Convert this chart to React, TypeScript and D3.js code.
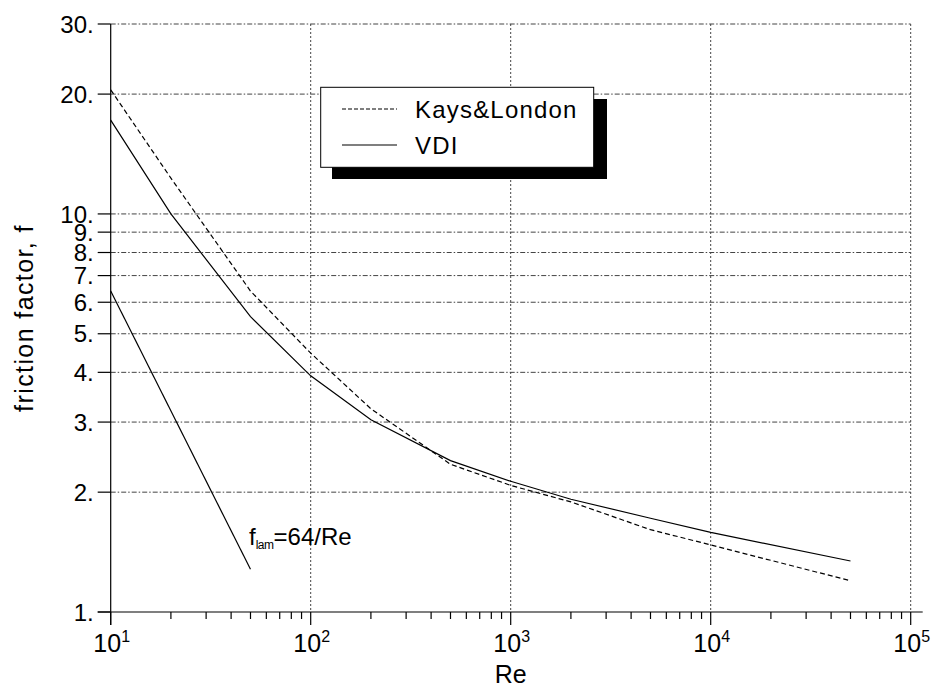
import React, { useEffect, useRef } from "react";
import * as d3 from "d3";

// Reynolds numbers where the curves have their kinks
const reKays = [10, 20, 50, 100, 200, 500, 1000, 2000, 5000, 10000, 50000];
const fKays = [20.5, 12.3, 6.4, 4.47, 3.24, 2.35, 2.08, 1.89, 1.61, 1.474, 1.198];

const reVdi = [10, 20, 50, 100, 200, 500, 1000, 2000, 5000, 10000, 50000];
const fVdi = [17.2, 10.0, 5.52, 3.92, 3.04, 2.4, 2.13, 1.92, 1.72, 1.585, 1.343];

// laminar line f = 64/Re, drawn from Re=10 to Re=50
const reLam = [10, 50];
const fLam = [6.4, 1.28];

const yTicks = [1, 2, 3, 4, 5, 6, 7, 8, 9, 10, 20, 30];
const xDecades = [1, 2, 3, 4, 5];
const legendNames = ["Kays&London", "VDI"];

const W = 931;
const H = 688;

export default function App() {
  const ref = useRef<SVGSVGElement>(null);

  useEffect(() => {
    const svg = d3.select(ref.current);
    svg.selectAll("*").remove();

    const x = d3.scaleLog().domain([10, 1e5]).range([110.7, 910.7]);
    const y = d3.scaleLog().domain([1, 30]).range([612, 24]);
    const font = "'Liberation Sans', Arial, sans-serif";

    // grid
    const grid = svg.append("g").attr("stroke", "#444").attr("stroke-width", 1);
    grid
      .selectAll("line.h")
      .data(yTicks.filter((d) => d > 1))
      .enter()
      .append("line")
      .attr("x1", x(10))
      .attr("x2", x(1e5))
      .attr("y1", (d) => y(d))
      .attr("y2", (d) => y(d))
      .attr("stroke-dasharray", "5,2,1.5,2");
    grid
      .selectAll("line.v")
      .data(xDecades.filter((d) => d > 1))
      .enter()
      .append("line")
      .attr("x1", (d) => x(Math.pow(10, d)))
      .attr("x2", (d) => x(Math.pow(10, d)))
      .attr("y1", y(30))
      .attr("y2", y(1))
      .attr("stroke-dasharray", "2,2");

    // axes lines
    const ax = svg.append("g").attr("stroke", "#000").attr("stroke-width", 1.2);
    ax.append("line").attr("x1", x(10) - 13).attr("x2", x(1e5) + 12).attr("y1", y(1)).attr("y2", y(1));
    ax.append("line").attr("x1", x(10)).attr("x2", x(10)).attr("y1", y(30)).attr("y2", y(1) + 13);

    // y ticks
    ax.selectAll("line.yt")
      .data(yTicks)
      .enter()
      .append("line")
      .attr("x1", x(10) - 13)
      .attr("x2", x(10))
      .attr("y1", (d) => y(d))
      .attr("y2", (d) => y(d));

    // x ticks, major + minor
    const xMinor: number[] = [];
    for (let e = 1; e < 5; e++) for (let m = 2; m <= 9; m++) xMinor.push(m * Math.pow(10, e));
    ax.selectAll("line.xm")
      .data(xMinor)
      .enter()
      .append("line")
      .attr("x1", (d) => x(d))
      .attr("x2", (d) => x(d))
      .attr("y1", y(1))
      .attr("y2", y(1) + 7);
    ax.selectAll("line.xM")
      .data(xDecades)
      .enter()
      .append("line")
      .attr("x1", (d) => x(Math.pow(10, d)))
      .attr("x2", (d) => x(Math.pow(10, d)))
      .attr("y1", y(1))
      .attr("y2", y(1) + 13);

    // y tick labels
    svg
      .append("g")
      .selectAll("text")
      .data(yTicks)
      .enter()
      .append("text")
      .attr("x", x(10) - 17)
      .attr("y", (d) => y(d))
      .attr("dy", "0.36em")
      .attr("text-anchor", "end")
      .attr("font-family", font)
      .attr("font-size", 24)
      .text((d) => d + ".");

    // x tick labels
    const xl = svg
      .append("g")
      .selectAll("text")
      .data(xDecades)
      .enter()
      .append("text")
      .attr("x", (d) => x(Math.pow(10, d)) + 1)
      .attr("y", 651.5)
      .attr("text-anchor", "middle")
      .attr("font-family", font)
      .attr("font-size", 25);
    xl.append("tspan").text("10");
    xl.append("tspan").attr("font-size", 16).attr("dy", -10).text((d) => String(d));

    // axis titles
    svg
      .append("text")
      .attr("x", x(1000))
      .attr("y", 683)
      .attr("text-anchor", "middle")
      .attr("font-family", font)
      .attr("font-size", 25)
      .text("Re");
    svg
      .append("text")
      .attr("transform", `translate(33,${(y(1) + y(30)) / 2}) rotate(-90)`)
      .attr("text-anchor", "middle")
      .attr("font-family", font)
      .attr("font-size", 25)
      .attr("letter-spacing", 1.4)
      .text("friction factor, f");

    // curves
    const line = d3
      .line<[number, number]>()
      .x((d) => x(d[0]))
      .y((d) => y(d[1]));
    const curves = svg.append("g").attr("fill", "none").attr("stroke", "#000").attr("stroke-width", 1.2);
    curves
      .append("path")
      .attr("d", line(reKays.map((r, i) => [r, fKays[i]] as [number, number])))
      .attr("stroke-dasharray", "5,3");
    curves.append("path").attr("d", line(reVdi.map((r, i) => [r, fVdi[i]] as [number, number])));
    curves.append("path").attr("d", line(reLam.map((r, i) => [r, fLam[i]] as [number, number])));

    // laminar label
    const lam = svg
      .append("text")
      .attr("x", 249)
      .attr("y", 545)
      .attr("font-family", font)
      .attr("font-size", 24);
    lam.append("tspan").text("f");
    lam.append("tspan").attr("font-size", 12).attr("dy", 4).attr("letter-spacing", -0.5).text("lam");
    lam.append("tspan").attr("dy", -4).text("=64/Re");

    // legend
    const lg = svg.append("g");
    lg.append("rect").attr("x", 332).attr("y", 99).attr("width", 275).attr("height", 80).attr("fill", "#000");
    lg.append("rect")
      .attr("x", 320.7)
      .attr("y", 87.3)
      .attr("width", 273)
      .attr("height", 80)
      .attr("fill", "#fff")
      .attr("stroke", "#000")
      .attr("stroke-width", 1);
    const items = lg
      .selectAll("g.item")
      .data(legendNames)
      .enter()
      .append("g")
      .attr("transform", (d, i) => `translate(0,${109 + i * 36})`);
    items
      .append("line")
      .attr("x1", 342)
      .attr("x2", 397)
      .attr("stroke", "#000")
      .attr("stroke-width", 1.2)
      .attr("stroke-dasharray", (d, i) => (i === 0 ? "4,2" : null));
    items
      .append("text")
      .attr("x", 415)
      .attr("dy", "0.36em")
      .attr("font-family", font)
      .attr("font-size", 24)
      .attr("letter-spacing", 1.2)
      .text((d) => d);
  }, []);

  return (
    <svg
      ref={ref}
      width={W}
      height={H}
      style={{ position: "absolute", left: 0, top: 0, background: "#fff" }}
    />
  );
}
